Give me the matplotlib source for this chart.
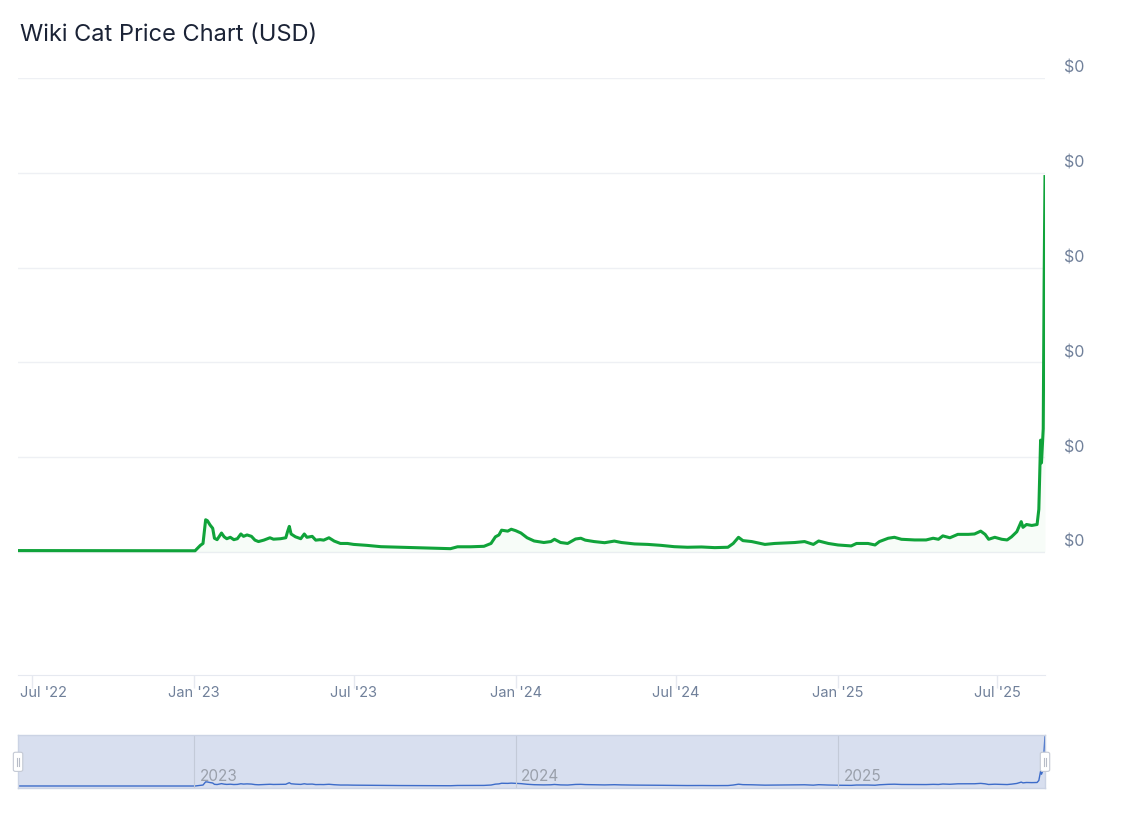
import numpy as np
import pandas as pd
import matplotlib
matplotlib.use("Agg")
from matplotlib import pyplot as plt
import matplotlib.dates as mdates
from matplotlib.patches import FancyBboxPatch
from matplotlib.transforms import ScaledTranslation

plt.rcParams["font.family"] = ["Inter", "DejaVu Sans"]

# price readings, in units of 1e-7 USD
dates = ["2022-06-15", "2022-10-01", "2023-01-02", "2023-01-08", "2023-01-11", "2023-01-14",
         "2023-01-16", "2023-01-19", "2023-01-22", "2023-01-24", "2023-01-27", "2023-02-01",
         "2023-02-04", "2023-02-07", "2023-02-11", "2023-02-15", "2023-02-19", "2023-02-23",
         "2023-02-26", "2023-03-02", "2023-03-07", "2023-03-11", "2023-03-15", "2023-03-21",
         "2023-03-28", "2023-04-01", "2023-04-09", "2023-04-15", "2023-04-17", "2023-04-19",
         "2023-04-21", "2023-04-26", "2023-05-02", "2023-05-06", "2023-05-09", "2023-05-15",
         "2023-05-19", "2023-05-24", "2023-05-28", "2023-06-03", "2023-06-09", "2023-06-16",
         "2023-06-24", "2023-07-01", "2023-07-16", "2023-08-01", "2023-08-23", "2023-09-07",
         "2023-09-30", "2023-10-19", "2023-10-27", "2023-11-11", "2023-11-26", "2023-12-04",
         "2023-12-09", "2023-12-13", "2023-12-16", "2023-12-23", "2023-12-27", "2024-01-01",
         "2024-01-07", "2024-01-14", "2024-01-22", "2024-02-02", "2024-02-10", "2024-02-14",
         "2024-02-21", "2024-02-29", "2024-03-09", "2024-03-15", "2024-03-20", "2024-03-30",
         "2024-04-11", "2024-04-22", "2024-04-30", "2024-05-15", "2024-05-30", "2024-06-14",
         "2024-06-29", "2024-07-14", "2024-07-30", "2024-08-14", "2024-08-29", "2024-09-04",
         "2024-09-10", "2024-09-15", "2024-09-25", "2024-10-10", "2024-10-21", "2024-11-02",
         "2024-11-13", "2024-11-24", "2024-12-04", "2024-12-10", "2024-12-21", "2025-01-01",
         "2025-01-16", "2025-01-22", "2025-02-04", "2025-02-12", "2025-02-17", "2025-02-27",
         "2025-03-06", "2025-03-14", "2025-03-29", "2025-04-11", "2025-04-19", "2025-04-25",
         "2025-04-30", "2025-05-08", "2025-05-17", "2025-05-29", "2025-06-05", "2025-06-12",
         "2025-06-17", "2025-06-21", "2025-06-28", "2025-07-06", "2025-07-12", "2025-07-17",
         "2025-07-23", "2025-07-28", "2025-07-30", "2025-08-03", "2025-08-09", "2025-08-15",
         "2025-08-17", "2025-08-19", "2025-08-20", "2025-08-22", "2025-08-23", "2025-08-24"]

price_e7 = [0.015, 0.014, 0.013, 0.07, 0.09, 0.34,
            0.33, 0.285, 0.25, 0.145, 0.13, 0.20,
            0.16, 0.14, 0.155, 0.13, 0.14, 0.19,
            0.165, 0.18, 0.165, 0.125, 0.11, 0.125,
            0.15, 0.135, 0.14, 0.15, 0.215, 0.27,
            0.19, 0.16, 0.14, 0.19, 0.155, 0.165,
            0.125, 0.13, 0.125, 0.15, 0.115, 0.09,
            0.09, 0.08, 0.07, 0.056, 0.05, 0.045,
            0.04, 0.035, 0.055, 0.055, 0.06, 0.09,
            0.16, 0.18, 0.23, 0.22, 0.24, 0.225,
            0.20, 0.15, 0.116, 0.10, 0.11, 0.134,
            0.10, 0.09, 0.137, 0.145, 0.125, 0.11,
            0.098, 0.115, 0.10, 0.085, 0.08, 0.07,
            0.056, 0.05, 0.053, 0.046, 0.05, 0.09,
            0.155, 0.12, 0.11, 0.08, 0.09, 0.095,
            0.10, 0.11, 0.08, 0.116, 0.09, 0.074,
            0.064, 0.09, 0.09, 0.074, 0.11, 0.145,
            0.155, 0.134, 0.127, 0.127, 0.145, 0.134,
            0.17, 0.15, 0.186, 0.186, 0.19, 0.22,
            0.186, 0.134, 0.155, 0.134, 0.127, 0.16,
            0.214, 0.32, 0.26, 0.29, 0.28, 0.29,
            0.45, 1.18, 0.94, 1.3, 2.84, 3.96]

year_marks = ["2023", "2024", "2025"]

df = pd.DataFrame({"date": pd.to_datetime(dates), "price": np.array(price_e7) * 1e-7})

fig = plt.figure(figsize=(11.21, 8.15), dpi=100)
fig.patch.set_facecolor("white")

# main chart
ax = fig.add_axes([0.0161, 0.1715, 0.9161, 0.7328])
ax.plot(df["date"], df["price"], color="#10a33a", linewidth=2.2, solid_joinstyle="round")
ax.fill_between(df["date"], df["price"], 0, color="#10a33a", alpha=0.03, linewidth=0)
ax.set_xlim(df["date"].iloc[0], df["date"].iloc[-1])
ax.set_ylim(-1.3e-7, 5.0e-7)
ax.set_yticks(np.arange(0, 6) * 1e-7)
ax.yaxis.set_major_formatter(plt.FuncFormatter(lambda v, _: f"${v:.0f}"))
ax.yaxis.tick_right()
ax.tick_params(axis="y", length=0, pad=14, labelsize=11.5, labelcolor="#70809a")
for lab in ax.get_yticklabels():
    lab.set_horizontalalignment("left")
    lab.set_transform(lab.get_transform() + ScaledTranslation(0, 0.11, fig.dpi_scale_trans))
ax.xaxis.set_major_locator(mdates.MonthLocator(bymonth=[1, 7]))
ax.xaxis.set_major_formatter(mdates.DateFormatter("%b '%y"))
ax.tick_params(axis="x", length=9, width=1, color="#e6e9f0", pad=-1, labelsize=10.5, labelcolor="#70809a")
# first label is pushed right so it is not cut at the left edge
first = ax.get_xticklabels()[0]
first.set_horizontalalignment("left")
first.set_transform(first.get_transform() + ScaledTranslation(-0.12, 0, fig.dpi_scale_trans))
ax.grid(axis="y", color="#eef0f4", linewidth=1)
ax.grid(axis="x", visible=False)
for side in ["top", "left", "right"]:
    ax.spines[side].set_visible(False)
ax.spines["bottom"].set_color("#e6e9f0")
ax.set_axisbelow(True)

fig.text(0.0175, 0.957, "Wiki Cat Price Chart (USD)", fontsize=17, color="#1b2336",
         ha="left", va="center")

# navigator
nav = fig.add_axes([0.0161, 0.0335, 0.9161, 0.0650])
nav.set_facecolor("#d8dfef")
nav.plot(df["date"], df["price"], color="#3d6cc9", linewidth=1.0)
nav.set_xlim(df["date"].iloc[0], df["date"].iloc[-1])
nav.set_ylim(-0.12e-7, 4.05e-7)
nav.set_xticks([])
nav.set_yticks([])
for s in nav.spines.values():
    s.set_color("#cbd3e4")
    s.set_linewidth(1)
for yr in year_marks:
    d = pd.Timestamp(f"{yr}-01-01")
    nav.axvline(d, color="#c3cad8", linewidth=0.8)
    nav.annotate(yr, (d, 0), xycoords=("data", "axes fraction"), xytext=(4, 3),
                 textcoords="offset points", fontsize=11, color="#9aa0ab", ha="left", va="bottom")

# handles on both ends of the navigator
for xf in [0.0161, 0.0161 + 0.9161]:
    h = FancyBboxPatch((xf - 0.0042, 0.0535), 0.0084, 0.0235, boxstyle="round,pad=0,rounding_size=0.002",
                       transform=fig.transFigure, facecolor="white", edgecolor="#c4c9d4",
                       linewidth=0.8, clip_on=False)
    fig.patches.append(h)
    for dx in (-0.0011, 0.0011):
        fig.add_artist(plt.Line2D([xf + dx, xf + dx], [0.0600, 0.0705], transform=fig.transFigure,
                                  color="#b7bcc7", linewidth=0.8))

fig.savefig("out.png", dpi=100, facecolor="white")
